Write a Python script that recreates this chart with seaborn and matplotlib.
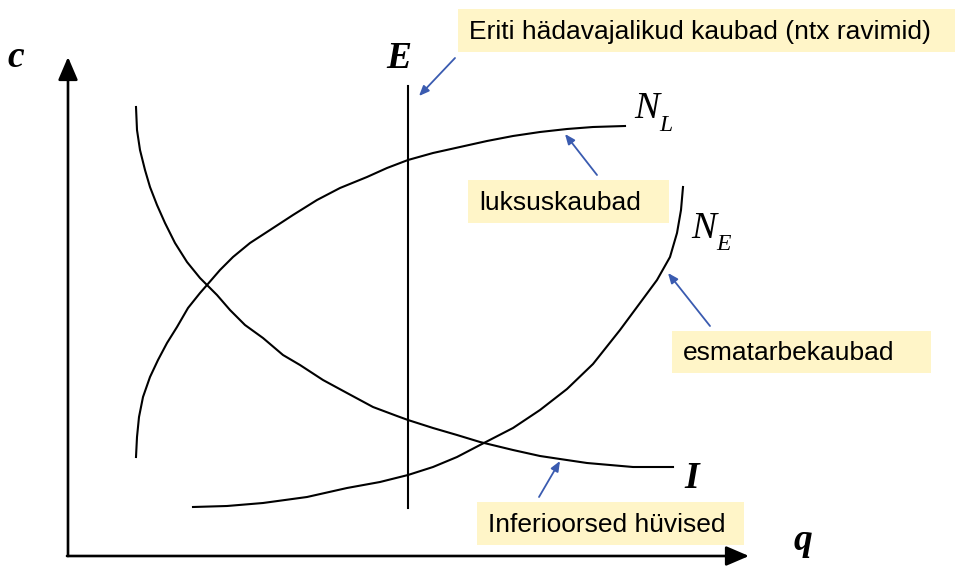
import matplotlib.pyplot as plt
import pandas as pd
import seaborn as sns
from matplotlib.patches import Rectangle

# curve shapes (pixel-like units, y grows downward)
luxury_x = [136, 137, 139, 143, 150, 158, 167, 177, 188, 200, 207, 220, 233, 250,
            270, 293, 317, 340, 367, 387, 408, 433, 460, 487, 513, 540, 567, 593, 625]
luxury_y = [457, 437, 417, 397, 377, 360, 343, 327, 308, 293, 285, 270, 257, 243,
            230, 215, 200, 188, 177, 168, 160, 153, 147, 141, 136, 132, 129, 127, 126]

inferior_x = [136, 137, 140, 145, 150, 157, 165, 175, 187, 200, 207, 217, 230, 245,
              263, 283, 300, 323, 347, 373, 397, 408, 433, 457, 480, 513, 540, 560,
              587, 610, 633, 673]
inferior_y = [107, 130, 150, 170, 187, 205, 223, 243, 262, 278, 285, 295, 310, 325,
              338, 355, 365, 380, 393, 407, 416, 420, 428, 435, 442, 450, 456, 459,
              463, 465, 467, 467]

necessity_x = [193, 227, 263, 307, 347, 380, 408, 433, 457, 480, 513, 540, 567, 593,
               620, 640, 657, 670, 677, 681, 683]
necessity_y = [507, 506, 503, 497, 488, 482, 475, 467, 457, 445, 428, 410, 389, 364,
               330, 303, 280, 257, 233, 210, 187]

essential_x = [408, 408]
essential_y = [86, 508]

# annotation texts and boxes: (text, box x0, y0, x1, y1, arrow start, arrow tip)
notes = [
    ('Eriti hädavajalikud kaubad (ntx ravimid)', 458, 9, 955, 52, (455, 58), (419, 96)),
    ('luksuskaubad', 468, 180, 669, 223, (597, 175), (565, 134)),
    ('esmatarbekaubad', 672, 331, 931, 373, (710, 326), (668, 273)),
    ('Inferioorsed hüvised', 477, 502, 744, 545, (539, 497), (560, 461)),
]

curves = pd.concat([
    pd.DataFrame({'q': luxury_x, 'c': luxury_y, 'curve': 'N_L'}),
    pd.DataFrame({'q': inferior_x, 'c': inferior_y, 'curve': 'I'}),
    pd.DataFrame({'q': necessity_x, 'c': necessity_y, 'curve': 'N_E'}),
    pd.DataFrame({'q': essential_x, 'c': essential_y, 'curve': 'E'}),
])

fig = plt.figure(figsize=(9.55, 5.66), dpi=100)
ax = fig.add_axes([0, 0, 1, 1])
sns.lineplot(data=curves, x='q', y='c', units='curve', estimator=None,
             sort=False, color='black', linewidth=1.5, ax=ax)
ax.set_xlim(0, 955)
ax.set_ylim(566, 0)
ax.axis('off')

# axes arrows
axis_kw = dict(arrowstyle='-|>,head_length=1.4,head_width=0.6', color='black',
               lw=1.9, shrinkA=0, shrinkB=0)
ax.annotate('', xy=(68, 57), xytext=(68, 556), arrowprops=axis_kw)
ax.annotate('', xy=(749, 556), xytext=(67, 556), arrowprops=axis_kw)

serif = 'Liberation Serif'
big = dict(fontsize=27, fontstyle='italic', family=serif, ha='center', va='baseline')
small = dict(fontsize=17, fontstyle='italic', family=serif, ha='center', va='baseline')
ax.text(16, 67, 'c', fontweight='bold', **big)
ax.text(803, 550, 'q', fontweight='bold', **big)
ax.text(399, 68, 'E', fontweight='bold', **big)
ax.text(692, 488, 'I', fontweight='bold', **big)
ax.text(647, 118, 'N', **big)
ax.text(666, 131, 'L', **small)
ax.text(704, 238, 'N', **big)
ax.text(723, 250, 'E', **small)

for label, x0, y0, x1, y1, start, tip in notes:
    ax.add_patch(Rectangle((x0, y0), x1 - x0, y1 - y0, facecolor='#fff5c8',
                           edgecolor='none', zorder=1))
    ax.text(x0 + 11, (y0 + y1) / 2 + 1, label, fontsize=19, family='Liberation Sans',
            ha='left', va='center', zorder=2)
    ax.annotate('', xy=tip, xytext=start,
                arrowprops=dict(arrowstyle='-|>,head_length=0.6,head_width=0.25',
                                color='#3a5bb0', lw=1.3, shrinkA=0, shrinkB=0))

plt.savefig('out.png', dpi=100)
plt.close()
